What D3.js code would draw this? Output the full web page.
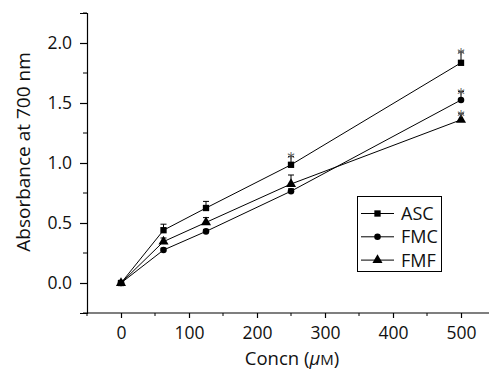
<!DOCTYPE html>
<html><head><meta charset="utf-8">
<script src="https://cdn.jsdelivr.net/npm/d3@7"></script>
<style>body{margin:0;background:#fff}svg{display:block}</style>
</head><body>
<script>
const concn = [0, 62.5, 125, 250, 500];
const seriesNames = ["ASC", "FMC", "FMF"];
const ascValues = [0.0, 0.44, 0.625, 0.985, 1.835];
const ascErrors = [0.0, 0.05, 0.055, 0.07, 0.09];
const fmcValues = [0.0, 0.275, 0.43, 0.765, 1.525];
const fmcErrors = [0.0, 0.015, 0.015, 0.02, 0.07];
const fmfValues = [0.0, 0.345, 0.505, 0.825, 1.36];
const fmfErrors = [0.0, 0.03, 0.04, 0.075, 0.05];
const significant = [[false,false,false,true,true],[false,false,false,false,true],[false,false,false,false,true]];
const xTicks = [0, 100, 200, 300, 400, 500];
const yTicks = [0.0, 0.5, 1.0, 1.5, 2.0];

const W = 489, H = 372;
const svg = d3.select("body").append("svg").attr("width", W).attr("height", H);
const font = "'Open Sans', 'Noto Sans', sans-serif";

const x = d3.scaleLinear().domain([-50, 550]).range([87, 495]);
const y = d3.scaleLinear().domain([-0.25, 2.25]).range([313, 13]);

// axes
const xAxis = svg.append("g").attr("transform", `translate(0,${y(-0.25)})`)
  .call(d3.axisBottom(x).tickValues(xTicks).tickSize(5).tickPadding(9).tickFormat(d3.format("d")));
xAxis.select(".domain").attr("d", `M${x(-50)},0H${W}`);
xAxis.selectAll(".minor").data([-50, 50, 150, 250, 350, 450]).enter().append("line")
  .attr("class", "minor").attr("x1", d => x(d)).attr("x2", d => x(d)).attr("y1", 0).attr("y2", 3).attr("stroke", "#000");

const yAxis = svg.append("g").attr("transform", `translate(${x(-50)},0)`)
  .call(d3.axisLeft(y).tickValues(yTicks).tickSize(7).tickPadding(8).tickFormat(d3.format(".1f")));
yAxis.selectAll(".minor").data([-0.25, 0.25, 0.75, 1.25, 1.75, 2.25]).enter().append("line")
  .attr("class", "minor").attr("x1", -4).attr("x2", 0).attr("y1", d => y(d)).attr("y2", d => y(d)).attr("stroke", "#000");

[xAxis, yAxis].forEach(g => {
  g.selectAll("text").attr("font-family", font).attr("font-size", 17.5).attr("fill", "#111");
  g.selectAll(".domain, .tick line").attr("stroke", "#000").attr("stroke-width", 1.2);
});

// titles
svg.append("text").attr("transform", `translate(30,152) rotate(-90)`)
  .attr("text-anchor", "middle").attr("font-family", font).attr("font-size", 19).attr("fill", "#111")
  .text("Absorbance at 700 nm");
const xt = svg.append("text").attr("x", 292).attr("y", 365).attr("text-anchor", "middle")
  .attr("font-family", font).attr("font-size", 18.5).attr("fill", "#111");
xt.append("tspan").text("Concn (");
xt.append("tspan").attr("font-style", "italic").text("μ");
xt.append("tspan").attr("font-size", 15).text("M");
xt.append("tspan").text(")");

const sym = {
  ASC: d3.symbol().type(d3.symbolSquare).size(40),
  FMC: d3.symbol().type(d3.symbolCircle).size(34),
  FMF: d3.symbol().type(d3.symbolTriangle).size(44)
};
const series = [
  {name: "ASC", values: ascValues, errors: ascErrors},
  {name: "FMC", values: fmcValues, errors: fmcErrors},
  {name: "FMF", values: fmfValues, errors: fmfErrors}
];

const line = d3.line().x(d => x(d[0])).y(d => y(d[1]));
series.forEach((s, si) => {
  const pts = concn.map((c, i) => [c, s.values[i], s.errors[i], significant[si][i]]);
  svg.append("path").attr("d", line(pts)).attr("fill", "none").attr("stroke", "#000").attr("stroke-width", 1);
  const g = svg.append("g");
  pts.forEach(p => {
    if (p[2] > 0) {
      g.append("line").attr("x1", x(p[0])).attr("x2", x(p[0])).attr("y1", y(p[1])).attr("y2", y(p[1] + p[2]))
        .attr("stroke", "#000").attr("stroke-width", 1);
      g.append("line").attr("x1", x(p[0]) - 3).attr("x2", x(p[0]) + 3).attr("y1", y(p[1] + p[2])).attr("y2", y(p[1] + p[2]))
        .attr("stroke", "#000").attr("stroke-width", 1);
    }
    g.append("path").attr("d", sym[s.name]()).attr("transform", `translate(${x(p[0])},${y(p[1])})`).attr("fill", "#000");
    if (p[3]) {
      g.append("text").attr("x", x(p[0])).attr("y", y(p[1] + p[2]) + 8).attr("text-anchor", "middle")
        .attr("font-family", "'DejaVu Sans', sans-serif").attr("font-size", 15).attr("fill", "#555").text("*");
    }
  });
});

// legend
const lg = svg.append("g");
lg.append("rect").attr("x", 357.5).attr("y", 196.5).attr("width", 84).attr("height", 75)
  .attr("fill", "#fff").attr("stroke", "#000").attr("stroke-width", 1);
seriesNames.forEach((n, i) => {
  const yy = 213.5 + i * 23.3;
  lg.append("line").attr("x1", 361).attr("x2", 394).attr("y1", yy).attr("y2", yy).attr("stroke", "#000").attr("stroke-width", 1);
  lg.append("path").attr("d", sym[n]()).attr("transform", `translate(377.5,${yy})`).attr("fill", "#000");
  lg.append("text").attr("x", 401).attr("y", yy + 6.5).attr("font-family", font).attr("font-size", 18).attr("fill", "#111").text(n);
});
</script>
</body></html>
